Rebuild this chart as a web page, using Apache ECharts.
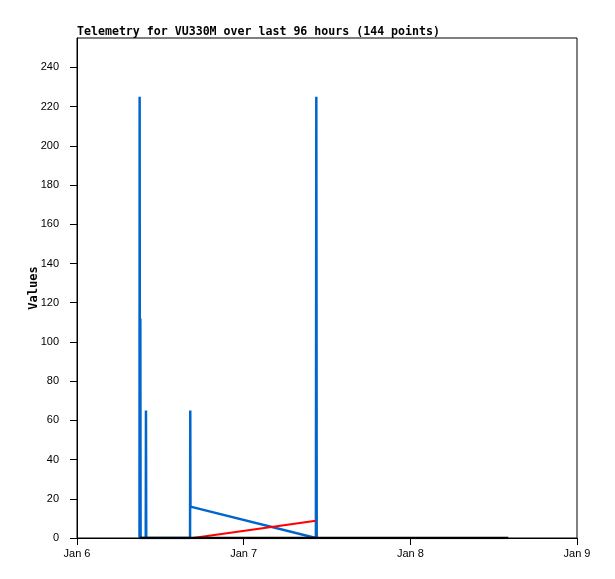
<!DOCTYPE html>
<html>
<head>
<meta charset="utf-8">
<style>html,body{margin:0;padding:0;background:#fff}#chart{width:615px;height:579px}</style>
<script src="https://cdn.jsdelivr.net/npm/echarts@6/dist/echarts.min.js"></script>
</head>
<body>
<div id="chart"></div>
<script>
// Times as "hours since Jan 6 00:00"
var titleText = 'Telemetry for VU330M over last 96 hours (144 points)';
var yAxisName = 'Values';
var xTickLabels = ['Jan 6', 'Jan 7', 'Jan 8', 'Jan 9'];

var blueHours  = [9.00, 9.02, 9.06, 9.12, 9.16, 9.90, 9.93, 9.97, 16.28, 16.31, 16.34, 34.40, 34.46, 34.52];
var blueValues = [0,    225,  0,    112,  0,    0,    65,   0,    0,     65,    16,    0,     225,   0];

var redHours  = [16.7, 34.4];
var redValues = [0,    8.8];

var blackHours  = [9.0, 62.1];
var blackValues = [0,   0];

var HOUR = 3600000;
var base = Date.UTC(2024, 0, 6);
function pts(h, v) { return h.map(function (x, i) { return [base + x * HOUR, v[i]]; }); }

var chart = echarts.init(document.getElementById('chart'));
chart.setOption({
  animation: false,
  backgroundColor: '#fff',
  title: {
    text: titleText, left: 77, top: 26, padding: 0,
    textStyle: { fontFamily: 'DejaVu Sans Mono', fontWeight: 'bold', fontSize: 11.6, color: '#000' }
  },
  grid: { left: 77, top: 38, right: 38, bottom: 41, show: true, borderColor: '#000', borderWidth: 1, backgroundColor: 'transparent' },
  xAxis: {
    type: 'value', min: base, max: base + 72 * HOUR, interval: 24 * HOUR,
    axisLine: { show: true, lineStyle: { color: '#000', width: 1 } },
    axisTick: { show: true, length: 7, lineStyle: { color: '#000' } },
    splitLine: { show: false },
    axisLabel: {
      margin: 10, color: '#000', fontFamily: 'Liberation Sans', fontSize: 11,
      formatter: function (v) { return xTickLabels[Math.round((v - base) / (24 * HOUR))] || ''; }
    }
  },
  yAxis: {
    type: 'value', min: 0, max: 255, interval: 20,
    name: yAxisName, nameLocation: 'middle', nameGap: 37, nameRotate: 90, nameMoveOverlap: false,
    nameTextStyle: { fontFamily: 'DejaVu Sans Mono', fontWeight: 'bold', fontSize: 12, color: '#000' },
    axisLine: { show: true, lineStyle: { color: '#000', width: 1 } },
    axisTick: { show: true, length: 7, lineStyle: { color: '#000' } },
    splitLine: { show: false },
    axisLabel: { margin: 18, color: '#000', fontFamily: 'Liberation Sans', fontSize: 11, showMaxLabel: false }
  },
  series: [
    { type: 'line', data: pts(blueHours, blueValues), showSymbol: false, symbol: 'none', lineStyle: { color: '#0066cc', width: 2.5 }, z: 2 },
    { type: 'line', data: pts(redHours, redValues), showSymbol: false, symbol: 'none', lineStyle: { color: '#ff0000', width: 2 }, z: 3 },
    { type: 'line', data: pts(blackHours, blackValues), showSymbol: false, symbol: 'none', lineStyle: { color: '#000000', width: 2.5 }, z: 4 }
  ]
});
</script>
</body>
</html>
